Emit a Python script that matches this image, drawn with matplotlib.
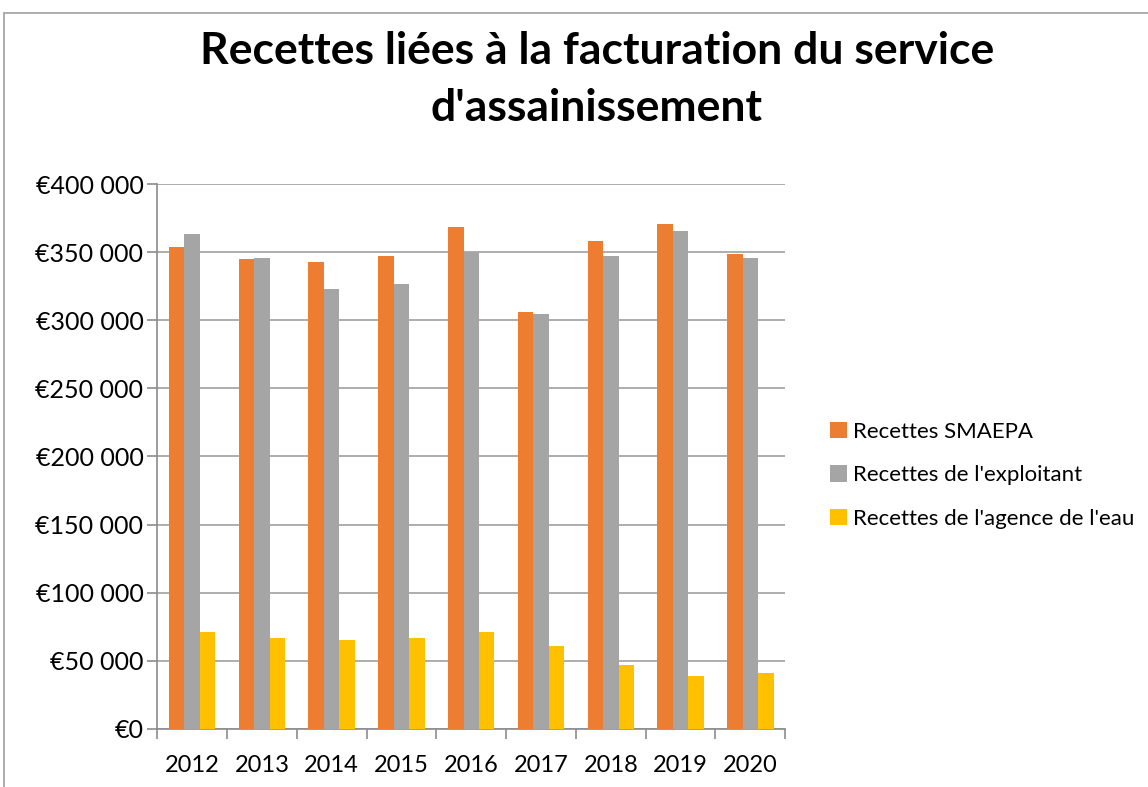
import numpy as np
import matplotlib
matplotlib.use('Agg')
import matplotlib.pyplot as plt
from matplotlib.ticker import FuncFormatter, FixedLocator
from matplotlib.patches import Rectangle

plt.rcParams['font.family'] = ['Lato', 'DejaVu Sans']

# donnees
years = ['2012', '2013', '2014', '2015', '2016', '2017', '2018', '2019', '2020']
smaepa = [353500, 345000, 342500, 347000, 368500, 306000, 358000, 371000, 348500]
exploitant = [363500, 345500, 323000, 327000, 350000, 304500, 347500, 365500, 345500]
agence = [71000, 67000, 65500, 66500, 71000, 60500, 47000, 39000, 41000]
labels = ['Recettes SMAEPA', "Recettes de l'exploitant", "Recettes de l'agence de l'eau"]
colors = ['#ED7D31', '#A5A5A5', '#FFC000']

fig = plt.figure(figsize=(11.48, 7.87), dpi=100)
ax = fig.add_axes([0.137, 0.074, 0.547, 0.692])

x = np.arange(len(years))
w = 0.222
bars = []
for i, (vals, col) in enumerate(zip([smaepa, exploitant, agence], colors)):
    b = ax.bar(x + (i - 1) * w, vals, width=w, color=col, zorder=3)
    bars.append(b)

ax.set_xlim(-0.5, len(years) - 0.5)
ax.set_ylim(0, 400000)
ax.set_yticks(np.arange(0, 400001, 50000))
ax.yaxis.set_major_formatter(FuncFormatter(
    lambda v, p: '€' + '{:,.0f}'.format(v).replace(',', ' ')))
ax.grid(axis='y', color='#a0a0a0', linewidth=1.2, zorder=0)

# etiquettes des annees au centre, graduations entre les categories
ax.set_xticks(x)
ax.set_xticklabels(years)
ax.tick_params(axis='x', which='major', length=0, pad=19, labelsize=17)
ax.xaxis.set_minor_locator(FixedLocator(np.arange(-0.5, len(years), 1)))
ax.tick_params(axis='x', which='minor', length=7, color='#8c8c8c', width=1.2)
ax.tick_params(axis='y', length=7, color='#8c8c8c', width=1.2, labelsize=18, pad=3)

for s in ['top', 'right']:
    ax.spines[s].set_visible(False)
ax.spines['left'].set_color('#8c8c8c')
ax.spines['bottom'].set_color('#8c8c8c')
ax.spines['left'].set_linewidth(1.2)
ax.spines['bottom'].set_linewidth(1.2)

fig.text(0.52, 0.899, 'Recettes liées à la facturation du service\nd\'assainissement',
         ha='center', va='center', fontsize=32, fontweight='bold', linespacing=1.5)

fig.legend(bars, labels, loc='center left', bbox_to_anchor=(0.706, 0.396),
           frameon=False, fontsize=16, handlelength=0.75, handleheight=0.75,
           handletextpad=0.25, labelspacing=1.05)

# cadre exterieur du graphique
fig.patches.append(Rectangle((4 / 1148, -0.1), 1.2, 1 - 13 / 787 + 0.1,
                             transform=fig.transFigure, fill=False,
                             edgecolor='#a0a0a0', linewidth=1.2))

fig.savefig('out.png', dpi=100)
